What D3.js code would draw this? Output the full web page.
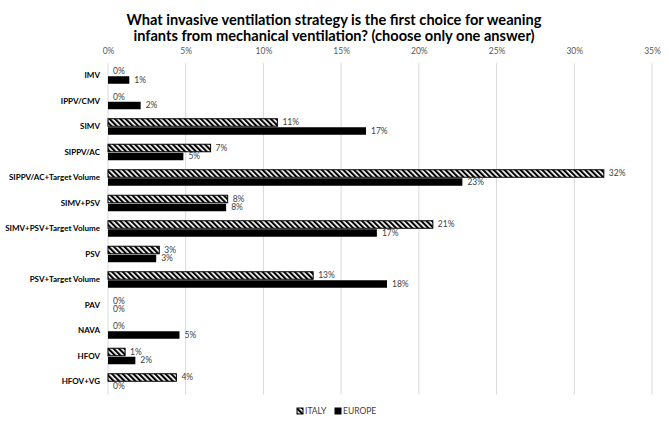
<!DOCTYPE html>
<html>
<head>
<meta charset="utf-8">
<script src="https://cdn.jsdelivr.net/npm/d3@7"></script>
<style>
  html, body { margin: 0; padding: 0; background: #fff; }
  svg { display: block; font-family: Lato, "Open Sans", sans-serif; }
</style>
</head>
<body>
<svg id="chart" width="669" height="428"></svg>
<script>
const categories = ["IMV", "IPPV/CMV", "SIMV", "SIPPV/AC", "SIPPV/AC+Target Volume", "SIMV+PSV",
  "SIMV+PSV+Target Volume", "PSV", "PSV+Target Volume", "PAV", "NAVA", "HFOV", "HFOV+VG"];
const italy  = [0, 0, 10.9, 6.6, 31.9, 7.7, 20.9, 3.3, 13.2, 0, 0, 1.1, 4.4];
const europe = [1.37, 2.1, 16.6, 4.85, 22.8, 7.6, 17.3, 3.1, 17.95, 0, 4.6, 1.76, 0];
const seriesNames = ["ITALY", "EUROPE"];
const xTicks = [0, 5, 10, 15, 20, 25, 30, 35];

const svg = d3.select("#chart");
const mLeft = 108, mRight = 652, mTop = 63, mBottom = 394.5;

const x = d3.scaleLinear().domain([0, 35]).range([mLeft, mRight]);
const y = d3.scaleBand().domain(categories).range([mTop, mBottom]).paddingInner(0).paddingOuter(0);
const barH = 7.5, gap = 1;

// hatch pattern
const defs = svg.append("defs");
const pat = defs.append("pattern").attr("id", "hatch")
  .attr("patternUnits", "userSpaceOnUse").attr("width", 3.8).attr("height", 3.8)
  .attr("patternTransform", "rotate(-45)");
pat.append("rect").attr("width", 3.8).attr("height", 3.8).attr("fill", "#fff");
pat.append("rect").attr("width", 2.1).attr("height", 3.8).attr("fill", "#000");

// title
svg.append("text").attr("x", 334).attr("y", 25).attr("text-anchor", "middle")
  .attr("font-weight", "bold").attr("font-size", 14.6).attr("fill", "#000")
  .text("What invasive ventilation strategy is the first choice for weaning");
svg.append("text").attr("x", 334).attr("y", 41).attr("text-anchor", "middle")
  .attr("font-weight", "bold").attr("font-size", 14.6).attr("fill", "#000")
  .text("infants from mechanical ventilation? (choose only one answer)");

// grid
svg.append("g").selectAll("line").data(xTicks).join("line")
  .attr("x1", d => x(d)).attr("x2", d => x(d))
  .attr("y1", mTop).attr("y2", mBottom)
  .attr("stroke", "#d9d9d9").attr("stroke-width", 1);

// top axis labels
const axis = svg.append("g").attr("transform", `translate(0,${mTop - 6})`)
  .call(d3.axisTop(x).tickValues(xTicks).tickFormat(d => d + "%").tickSize(0));
axis.select(".domain").remove();
axis.selectAll("text").attr("font-size", 8.5).attr("fill", "#595959")
  .attr("font-family", "Lato, 'Open Sans', sans-serif");

// category labels
const yAxis = svg.append("g").attr("transform", `translate(${mLeft - 8},0)`)
  .call(d3.axisLeft(y).tickSize(0));
yAxis.select(".domain").remove();
yAxis.selectAll("text").attr("font-size", 8).attr("font-weight", "bold").attr("fill", "#000")
  .attr("font-family", "Lato, 'Open Sans', sans-serif").attr("x", 0);

const fmt = v => Math.round(v) + "%";
const rows = categories.map((c, i) => ({c, it: italy[i], eu: europe[i]}));

// Italy bars
svg.append("g").selectAll("rect").data(rows.filter(d => d.it > 0)).join("rect")
  .attr("x", x(0)).attr("y", d => y(d.c) + y.bandwidth() / 2 - barH - gap / 2)
  .attr("width", d => x(d.it) - x(0)).attr("height", barH)
  .attr("fill", "url(#hatch)").attr("stroke", "#000").attr("stroke-width", 1);
// Europe bars
svg.append("g").selectAll("rect").data(rows.filter(d => d.eu > 0)).join("rect")
  .attr("x", x(0)).attr("y", d => y(d.c) + y.bandwidth() / 2 + gap / 2)
  .attr("width", d => x(d.eu) - x(0)).attr("height", barH)
  .attr("fill", "#000");

// labels
const lbl = svg.append("g").attr("font-size", 8.5).attr("fill", "#404040");
lbl.selectAll("text.it").data(rows).join("text").attr("class", "it")
  .attr("x", d => x(d.it) + 5).attr("y", d => y(d.c) + y.bandwidth() / 2 - barH / 2 - gap / 2)
  .attr("dy", "0.35em").text(d => fmt(d.it));
lbl.selectAll("text.eu").data(rows).join("text").attr("class", "eu")
  .attr("x", d => x(d.eu) + 5).attr("y", d => y(d.c) + y.bandwidth() / 2 + barH / 2 + gap / 2)
  .attr("dy", "0.35em").text(d => fmt(d.eu));

// legend
const lg = svg.append("g").attr("font-size", 8.5).attr("fill", "#404040");
const legX = [297, 335];
seriesNames.forEach((n, i) => {
  lg.append("rect").attr("x", legX[i]).attr("y", 408).attr("width", 6).attr("height", 6)
    .attr("fill", i === 0 ? "url(#hatch)" : "#000").attr("stroke", "#000").attr("stroke-width", 1);
  lg.append("text").attr("x", legX[i] + 8).attr("y", 411).attr("dy", "0.35em").text(n);
});
</script>
</body>
</html>
